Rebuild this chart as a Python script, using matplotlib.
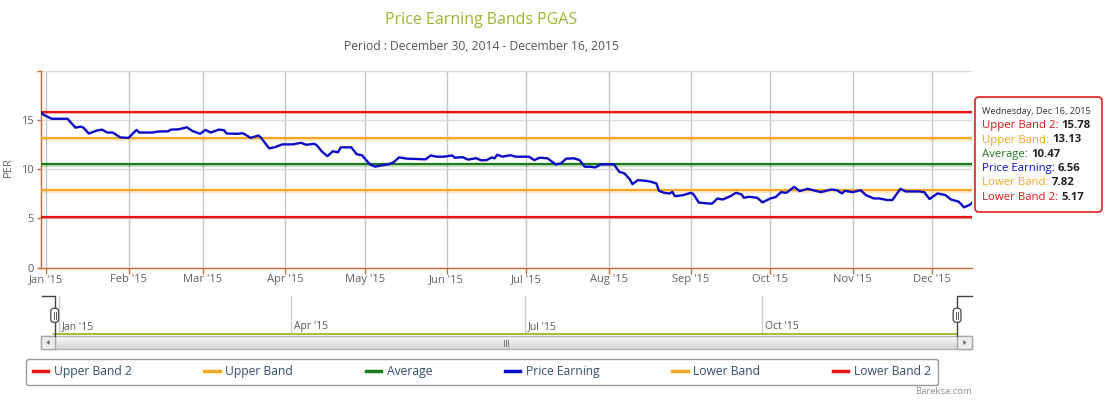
import numpy as np
import pandas as pd
import matplotlib.pyplot as plt
import matplotlib.dates as mdates
import matplotlib.patheffects as pe
from matplotlib.lines import Line2D
from matplotlib.patches import FancyBboxPatch, Rectangle, Polygon
from matplotlib.colors import LinearSegmentedColormap

plt.rcParams['font.family'] = ['Open Sans', 'DejaVu Sans']

# ---- data ----
title = 'Price Earning Bands PGAS'
period_start = '2014-12-30'
period_end = '2015-12-16'

band_names = ['Upper Band 2', 'Upper Band', 'Average', 'Lower Band', 'Lower Band 2']
band_values = [15.78, 13.13, 10.47, 7.82, 5.17]
band_colors = ['#e31414', '#f5a623', '#1c7c1c', '#f5a623', '#e31414']

pe_name = 'Price Earning'
pe_color = '#0b0bc8'
pe_dates = [
    '2014-12-30', '2014-12-31', '2015-01-03', '2015-01-09', '2015-01-12', '2015-01-14',
    '2015-01-15', '2015-01-17', '2015-01-20', '2015-01-22', '2015-01-24', '2015-01-26',
    '2015-01-29', '2015-02-01', '2015-02-04', '2015-02-05', '2015-02-10', '2015-02-12',
    '2015-02-16', '2015-02-17', '2015-02-20', '2015-02-23', '2015-02-25', '2015-02-28',
    '2015-03-02', '2015-03-04', '2015-03-07', '2015-03-09', '2015-03-10', '2015-03-14',
    '2015-03-16', '2015-03-17', '2015-03-19', '2015-03-22', '2015-03-23', '2015-03-26',
    '2015-03-28', '2015-03-31', '2015-04-04', '2015-04-07', '2015-04-09', '2015-04-12',
    '2015-04-13', '2015-04-15', '2015-04-17', '2015-04-19', '2015-04-21', '2015-04-22',
    '2015-04-26', '2015-04-28', '2015-04-30', '2015-05-03', '2015-05-05', '2015-05-08',
    '2015-05-10', '2015-05-12', '2015-05-14', '2015-05-17', '2015-05-24', '2015-05-26',
    '2015-05-28', '2015-05-31', '2015-06-03', '2015-06-04', '2015-06-07', '2015-06-09',
    '2015-06-12', '2015-06-14', '2015-06-16', '2015-06-18', '2015-06-19', '2015-06-20',
    '2015-06-22', '2015-06-25', '2015-06-27', '2015-07-02', '2015-07-04', '2015-07-06',
    '2015-07-09', '2015-07-12', '2015-07-14', '2015-07-16', '2015-07-19', '2015-07-21',
    '2015-07-23', '2015-07-25', '2015-07-27', '2015-07-29', '2015-08-03', '2015-08-05',
    '2015-08-07', '2015-08-09', '2015-08-10', '2015-08-12', '2015-08-15', '2015-08-17',
    '2015-08-19', '2015-08-20', '2015-08-22', '2015-08-24', '2015-08-25', '2015-08-26',
    '2015-08-29', '2015-09-01', '2015-09-02', '2015-09-04', '2015-09-08', '2015-09-09',
    '2015-09-11', '2015-09-13', '2015-09-16', '2015-09-18', '2015-09-20', '2015-09-21',
    '2015-09-23', '2015-09-26', '2015-09-28', '2015-10-01', '2015-10-03', '2015-10-05',
    '2015-10-07', '2015-10-10', '2015-10-12', '2015-10-15', '2015-10-17', '2015-10-20',
    '2015-10-24', '2015-10-26', '2015-10-28', '2015-10-29', '2015-11-01', '2015-11-04',
    '2015-11-06', '2015-11-09', '2015-11-11', '2015-11-14', '2015-11-16', '2015-11-19',
    '2015-11-21', '2015-11-26', '2015-11-28', '2015-11-30', '2015-12-03', '2015-12-06',
    '2015-12-08', '2015-12-11', '2015-12-13', '2015-12-15', '2015-12-16',
]
pe_values = [
    15.71, 15.50, 15.10, 15.10, 14.20, 14.30,
    14.20, 13.60, 13.90, 14.00, 13.70, 13.70,
    13.20, 13.16, 13.97, 13.70, 13.70, 13.80,
    13.83, 14.00, 14.03, 14.24, 13.87, 13.57,
    13.97, 13.70, 14.00, 13.94, 13.60, 13.57,
    13.63, 13.50, 13.16, 13.40, 13.16, 12.10,
    12.20, 12.50, 12.50, 12.66, 12.46, 12.56,
    12.40, 11.75, 11.30, 11.80, 11.70, 12.20,
    12.20, 11.50, 11.40, 10.47, 10.24, 10.40,
    10.47, 10.70, 11.18, 11.05, 10.98, 11.38,
    11.25, 11.25, 11.38, 11.15, 11.20, 10.95,
    11.10, 10.88, 10.90, 11.18, 11.08, 11.45,
    11.25, 11.40, 11.25, 11.25, 10.90, 11.15,
    11.08, 10.47, 10.57, 11.05, 11.08, 10.91,
    10.23, 10.23, 10.16, 10.47, 10.47, 9.72,
    9.55, 8.94, 8.46, 8.87, 8.80, 8.70,
    8.53, 7.78, 7.58, 7.51, 7.68, 7.24,
    7.34, 7.58, 7.44, 6.59, 6.49, 6.49,
    7.00, 6.90, 7.25, 7.58, 7.44, 7.08,
    7.18, 7.08, 6.61, 7.01, 7.15, 7.65,
    7.58, 8.19, 7.75, 7.99, 7.85, 7.65,
    7.92, 7.85, 7.52, 7.79, 7.65, 7.85,
    7.35, 7.01, 7.01, 6.85, 6.85, 7.99,
    7.72, 7.72, 7.65, 6.95, 7.52, 7.35,
    6.91, 6.68, 6.11, 6.34, 6.56,
]

# ---- figure, everything laid out in screen pixels ----
W, H = 1105, 400
fig = plt.figure(figsize=(W / 100, H / 100), dpi=100)


def rect(l, t, r, b):
    return [l / W, 1 - b / H, (r - l) / W, (b - t) / H]


start = pd.Timestamp(period_start)
end = pd.Timestamp(period_end)
dates = pd.to_datetime(pe_dates)
axis_col = '#cc6a33'
tick_col = '#606060'

# main plot
ax = fig.add_axes(rect(41, 70.5, 972, 267.5))
for name, val, col in zip(band_names, band_values, band_colors):
    ax.plot([start, end], [val, val], color=col, lw=1.6, solid_capstyle='butt', zorder=3,
            path_effects=[pe.SimpleLineShadow(offset=(0, -1), shadow_color=col, alpha=0.25),
                          pe.Normal()])
ax.plot(dates, pe_values, color=pe_color, lw=1.7, zorder=4)

ax.set_xlim(start, end)
ax.set_ylim(0, 20)
ax.set_yticks([0, 5, 10, 15, 20])
ax.set_yticklabels(['0', '5', '10', '15', ''])
ax.xaxis.set_major_locator(mdates.MonthLocator())
ax.xaxis.set_major_formatter(mdates.DateFormatter("%b '%y"))
ax.set_axisbelow(True)
ax.grid(True, axis='y', color='#d9d9d9', lw=1)
ax.grid(True, axis='x', color='#c6c6c6', lw=1)
for s in ['top', 'right']:
    ax.spines[s].set_visible(False)
for s in ['left', 'bottom']:
    ax.spines[s].set_color(axis_col)
    ax.spines[s].set_linewidth(1)
ax.tick_params(axis='x', length=4, width=1, color=axis_col, pad=1, labelsize=8, labelcolor=tick_col)
ax.tick_params(axis='y', length=3, width=1, color=axis_col, pad=2, labelsize=8, labelcolor=tick_col)
fig.text(8 / W, 1 - 167 / H, 'PER', rotation=90, ha='center', va='center', fontsize=8, color=tick_col)

# navigator strip
nav = fig.add_axes(rect(54.3, 295.7, 957.3, 334.3))
nav.set_xlim(start, end)
nav.set_ylim(0, 1)
nav.xaxis.set_major_locator(mdates.MonthLocator(bymonth=[1, 4, 7, 10]))
nav.tick_params(axis='both', length=0, labelbottom=False, labelleft=False)
nav.set_yticks([])
nav.grid(True, axis='x', color='#d0d0d0', lw=1)
for s in ['top', 'right', 'left']:
    nav.spines[s].set_visible(False)
nav.spines['bottom'].set_color('#b0bb3c')
nav.spines['bottom'].set_linewidth(1.5)
x0, x1 = mdates.date2num(start), mdates.date2num(end)
for t in nav.get_xticks():
    if x0 <= t <= x1:
        nav.annotate(mdates.num2date(t).strftime("%b '%y"), (t, 0.2),
                     xycoords=nav.get_xaxis_transform(), xytext=(2, 0), textcoords='offset points',
                     ha='left', va='center', fontsize=7.5, color='#555555')

# overlay for chrome (handles, scrollbar, tooltip, credits)
ov = fig.add_axes([0, 0, 1, 1])
ov.axis('off')

grad = np.linspace(0, 1, 20).reshape(-1, 1)
sb_cmap = LinearSegmentedColormap.from_list('sb', ['#fdfdfd', '#d6d6d6'])
ov.imshow(grad, cmap=sb_cmap, extent=(40.7, 971.7, 349.3, 335.7), origin='upper', aspect='auto', zorder=1)
ov.add_patch(Rectangle((40.7, 335.7), 931, 13.6, fill=False, ec='#b5b5b5', lw=1, zorder=2))
for bx in [40.7, 957.3]:
    ov.add_patch(Rectangle((bx, 335.7), 14.4, 13.6, fc='#ececec', ec='#a8a8a8', lw=1, zorder=3))
ov.add_patch(Polygon([[49.5, 340], [49.5, 345], [46.3, 342.5]], closed=True, fc='#666666', ec='none', zorder=4))
ov.add_patch(Polygon([[963.3, 340], [963.3, 345], [966.5, 342.5]], closed=True, fc='#666666', ec='none', zorder=4))
for gx in [504, 506, 508]:
    ov.plot([gx, gx], [339.5, 345.5], color='#888888', lw=0.8, zorder=4)

# navigator handles
ov.plot([41.7, 55, 55], [295.7, 295.7, 335.5], color='#444444', lw=1, zorder=5)
ov.plot([971.7, 957.3, 957.3], [295.7, 295.7, 335.5], color='#444444', lw=1, zorder=5)
for hx in [50.8, 953.2]:
    ov.add_patch(FancyBboxPatch((hx, 308.3), 7.8, 14, boxstyle='round,pad=0,rounding_size=3',
                                fc='white', ec='#555555', lw=1, zorder=6))
    for lx in [hx + 3.2, hx + 4.8]:
        ov.plot([lx, lx], [311.5, 319], color='#555555', lw=0.7, zorder=7)

# tooltip for the last point
ov.add_patch(FancyBboxPatch((975, 97), 127, 115, boxstyle='round,pad=0,rounding_size=4',
                            fc='white', ec='#e02020', lw=1.2, zorder=10))
ov.text(982, 111.7, dates[-1].strftime('%A, %b %d, %Y'), fontsize=6.6, color='#333333',
        ha='left', va='center', zorder=11)
tip_names = band_names[:3] + [pe_name] + band_names[3:]
tip_values = band_values[:3] + [pe_values[-1]] + band_values[3:]
tip_colors = band_colors[:3] + [pe_color] + band_colors[3:]
for i, (name, val, col) in enumerate(zip(tip_names, tip_values, tip_colors)):
    y = 125.7 + i * 14.3
    lab = ov.text(982, y, name + ': ', fontsize=8.2, color=col, ha='left', va='center', zorder=11)
    ov.annotate(f'{val:.2f}', xy=(1, 0), xycoords=lab, ha='left', va='bottom',
                fontsize=8.2, fontweight='bold', color='#222222', zorder=11)

ov.text(972, 391.5, 'Bareksa.com', fontsize=6.8, color='#909090', ha='right', va='center')

ov.set_xlim(0, W)
ov.set_ylim(H, 0)

# legend
handles = [Line2D([], [], color=c, lw=2.5) for c in tip_colors]
leg = fig.legend(handles, tip_names, ncol=6, loc='center', bbox_to_anchor=(481.8 / W, 1 - 371.8 / H),
                 fontsize=8.7, frameon=True, fancybox=True, edgecolor='#9a9a9a', framealpha=1,
                 columnspacing=6.0, handlelength=1.3, handletextpad=0.45, borderpad=0.55,
                 labelcolor='#2f4e6e')
leg.get_frame().set_linewidth(1)

# titles
sub = f"Period : {start:%B %d, %Y} - {end:%B %d, %Y}"
fig.text(481.5 / W, 1 - 20 / H, title, ha='center', va='center', fontsize=11.5, color='#a0b42f')
fig.text(481.5 / W, 1 - 46 / H, sub, ha='center', va='center', fontsize=8.7, color='#555555')

fig.savefig('out.png', dpi=100)
